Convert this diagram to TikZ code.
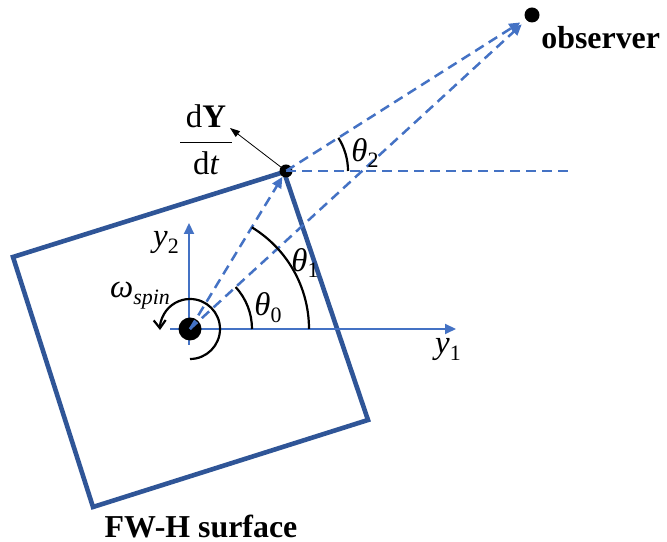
\documentclass[tikz,border=0pt]{standalone}
\usepackage{fontspec}
\usepackage{amsmath}
\setmainfont{Liberation Serif}
\usetikzlibrary{arrows.meta}
\definecolor{sqblue}{RGB}{47,85,151}
\definecolor{lnblue}{RGB}{68,114,196}
\newcommand{\symb}[2]{\textit{#1}\raisebox{-0.45ex}{\fontsize{11}{11}\selectfont #2}}
\begin{document}
\begin{tikzpicture}[x=0.5bp,y=0.5bp,
  square/.style={draw=sqblue,line width=2.3bp,line join=miter},
  dline/.style={draw=lnblue,line width=1.25bp,dash pattern=on 5bp off 3bp},
  axis/.style={draw=lnblue,line width=1bp,-{Triangle[length=5.5bp,width=5bp]}},
  tip/.style={-{Triangle[length=5.5bp,width=5bp,fill=lnblue]}},
  angarc/.style={draw=black,line width=1.1bp},
  dotnode/.style={circle,fill=black,inner sep=0pt},
  lbl/.style={inner sep=0pt,font=\fontsize{16.5}{18}\selectfont},
  blbl/.style={inner sep=0pt,font=\fontsize{16}{18}\selectfont\bfseries}]
\useasboundingbox (0,0) rectangle (667,542);
% coordinates
\coordinate (TL) at (13,285);
\coordinate (TR) at (284,370);
\coordinate (BR) at (368,122);
\coordinate (BL) at (93,35);
\coordinate (Hend) at (572,371);
\coordinate (Y1s) at (170,213);
\coordinate (Y1e) at (456,213);
\coordinate (Y2s) at (189,197);
\coordinate (Y2e) at (189,319);
\coordinate (dYtip) at (230,414);
% square (FW-H surface)
\draw[square] (TL) -- (TR) -- (BR) -- (BL) -- cycle;
% axes
\draw[axis] (Y1s) -- (Y1e);
\draw[axis] (Y2s) -- (Y2e);
% dots
\node[dotnode,minimum size=11.5bp] (C) at (190,213) {};
\node[dotnode,minimum size=6.5bp] (P) at (286,371) {};
\node[dotnode,minimum size=7.5bp] (O) at (532,527) {};
% dashed lines
\draw[dline,tip] (C.center) -- (P);
\draw[dline,tip,shorten >=3bp] (C.center) -- (O);
\draw[dline,tip,shorten >=3bp] (P.center) -- (O);
\draw[dline] (P.center) -- (Hend);
% angle arcs
\draw[angarc] ([shift={(0:62)}]C.center) arc[start angle=0,end angle=42.6,radius=62];
\draw[angarc] ([shift={(0:119)}]C.center) arc[start angle=0,end angle=58.7,radius=119];
\draw[angarc] ([shift={(0:62)}]P.center) arc[start angle=0,end angle=32.4,radius=62];
% spin arrow
\draw[angarc,-{Straight Barb[length=4bp,width=6bp]}] ([shift={(-90:30)}]C.center) arc[start angle=-90,end angle=182,radius=30];
% dY/dt arrow
\draw[line width=0.4bp,-{Triangle[length=5bp,width=3.5bp]}] (P.center) -- (dYtip);
% labels
\node[lbl] (th0) at (268,234) {\symb{θ}{0}};
\node[lbl] (th1) at (305,279) {\symb{θ}{1}};
\node[lbl] (th2) at (365,389) {\symb{θ}{2}};
\node[lbl] (om) at (140,246) {\symb{ω}{\itshape spin}};
\node[lbl] (y2l) at (166,299) {\symb{y}{2}};
\node[lbl] (y1l) at (448,192) {\symb{y}{1}};
\node[lbl] (dYdt) at (206,402) {$\dfrac{\,\text{d}\textbf{Y}\,}{\text{d}\textit{t}}$};
\node[blbl,anchor=west] (obs) at (541,504) {observer};
\node[blbl] (fwh) at (201,15) {FW-H surface};
\end{tikzpicture}
\end{document}
